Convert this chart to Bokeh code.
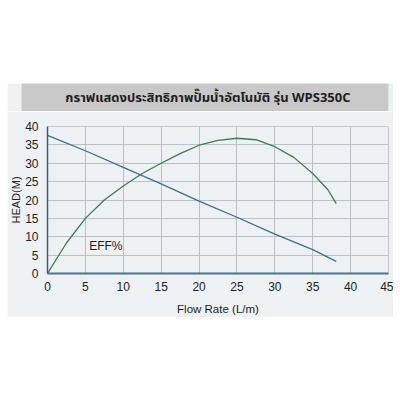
from bokeh.plotting import figure
from bokeh.layouts import row
from bokeh.models import Spacer
from bokeh.core.properties import value
from bokeh.embed import file_html
from bokeh.resources import INLINE

# pump performance readings
flow_head = [0, 5, 10, 15, 20, 25, 30, 35, 38.1]
head = [37.6, 33.4, 28.9, 24.4, 19.7, 15.3, 10.7, 6.5, 3.3]

flow_eff = [0, 2.5, 5, 7.5, 10, 12.5, 15, 17.5, 20, 22.5, 25, 27.5, 30, 32.5, 35, 37, 38.1]
eff = [0, 8.3, 15, 20, 23.8, 27.2, 30, 32.6, 34.9, 36.2, 36.8, 36.4, 34.5, 31.6, 27.2, 22.8, 19]

x_ticks = [0, 5, 10, 15, 20, 25, 30, 35, 40, 45]
y_ticks = [0, 5, 10, 15, 20, 25, 30, 35, 40]

title_text = "กราฟแสดงประสิทธิภาพปั๊มน้ำอัตโนมัติ รุ่น WPS350C"
eff_label = "EFF%"

panel = "#eef1f3"
font = "Liberation Sans"

# grey title bar
t = figure(width=386, height=28, x_range=(0, 1), y_range=(0, 1),
           x_axis_type=None, y_axis_type=None, toolbar_location=None,
           output_backend="svg", min_border_left=14, min_border_right=5,
           min_border_top=0, min_border_bottom=0)
t.border_fill_color = panel
t.background_fill_color = "#c8c8c8"
t.outline_line_color = None
t.grid.visible = False
t.text(x=[0.508], y=[0.5], text=[title_text], text_align="center",
       text_baseline="middle", text_font_size="13px", text_font_style="bold",
       text_color="#1e1e1e", text_font=value("Noto Sans Thai, Noto Sans, sans-serif"))

# main chart
p = figure(width=386, height=206, x_range=(0, 45), y_range=(0, 40),
           toolbar_location=None, output_backend="svg",
           min_border_left=39, min_border_right=5, min_border_top=15,
           min_border_bottom=43,
           x_axis_label="Flow Rate (L/m)", y_axis_label="HEAD(M)")
p.border_fill_color = panel
p.background_fill_color = panel
p.outline_line_color = "#c4c8cc"

p.xaxis.ticker = x_ticks
p.yaxis.ticker = y_ticks
p.grid.grid_line_color = "#bcc0c4"
p.grid.grid_line_width = 1

for ax in p.axis:
    ax.major_tick_out = 0
    ax.major_tick_in = 0
    ax.minor_tick_out = 0
    ax.minor_tick_in = 0
    ax.major_label_text_font = font
    ax.major_label_text_font_size = "12px"
    ax.major_label_text_color = "#1e1e1e"
    ax.axis_label_text_font = font
    ax.axis_label_text_font_size = "11.5px"
    ax.axis_label_text_font_style = "normal"
    ax.axis_label_text_color = "#1e1e1e"

p.xaxis.axis_line_color = "#4f7387"
p.xaxis.axis_line_width = 2
p.xaxis.major_label_standoff = 8
p.xaxis.axis_label_standoff = 9
p.yaxis.axis_line_color = "#3e5a6c"
p.yaxis.axis_line_width = 1.5
p.yaxis.axis_label_text_font_size = "11px"
p.yaxis.major_label_standoff = 9
p.yaxis.axis_label_standoff = 0

p.line(flow_head, head, line_color="#3d6c92", line_width=1.3)
p.line(flow_eff, eff, line_color="#3b7a5c", line_width=1.3)

p.text(x=[5.5], y=[7.4], text=[eff_label], text_align="left",
       text_baseline="middle", text_font_size="12px",
       text_font=value(font), text_color="#1e1e1e")

roots = [
    Spacer(width=393, height=83),
    row(Spacer(width=7, height=28), t),
    row(Spacer(width=7, height=206), p),
]

open("out.html", "w").write(file_html(roots, INLINE))
